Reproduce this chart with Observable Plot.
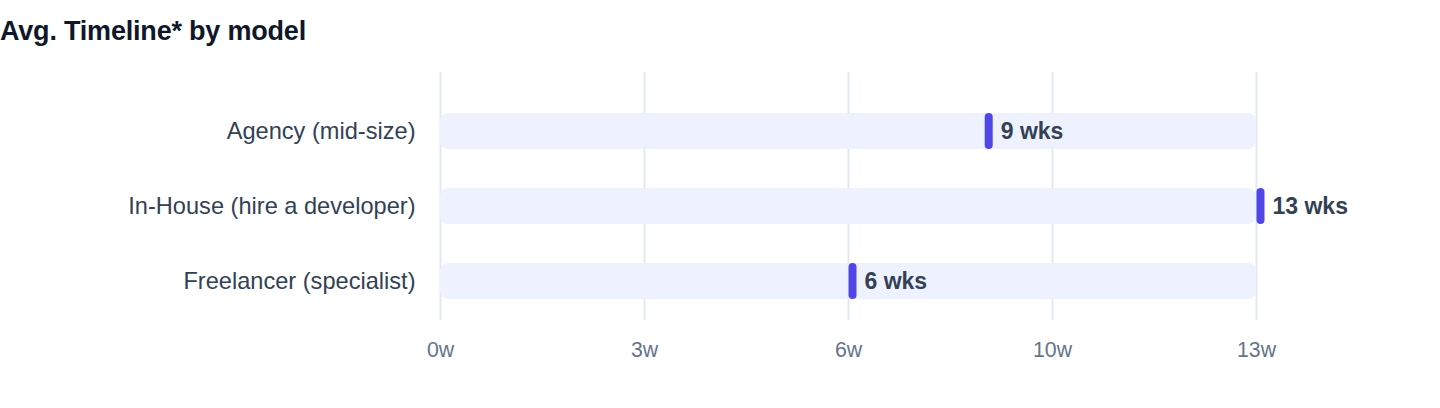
<!DOCTYPE html>
<html>
<head>
<meta charset="utf-8">
<script src="https://cdn.jsdelivr.net/npm/d3@7"></script>
<script src="https://cdn.jsdelivr.net/npm/@observablehq/plot@0.6"></script>
<style>
  html, body { margin: 0; padding: 0; background: #fff; }
  body { width: 1440px; height: 408px; position: relative; overflow: hidden; font-family: "Liberation Sans", Arial, sans-serif; }
  #title { position: absolute; left: 0; top: 18px; font-size: 27px; line-height: 27px; font-weight: 700; color: #0f172a; letter-spacing: -0.2px; white-space: nowrap; }
  #chart { position: absolute; left: 0; top: 0; }
</style>
</head>
<body>
<div id="title">Avg. Timeline* by model</div>
<div id="chart"></div>
<script>
// Data
const models = ["Agency (mid-size)", "In-House (hire a developer)", "Freelancer (specialist)"];
const weeks = [8.67, 13, 6.5];
const valueLabels = ["9 wks", "13 wks", "6 wks"];
const tickValues = [0, 3.25, 6.5, 9.75, 13];
const tickLabels = ["0w", "3w", "6w", "10w", "13w"];
const trackMax = 13;

const rows = models.map((m, i) => ({model: m, weeks: weeks[i], label: valueLabels[i], max: trackMax}));
const tickLabelMap = new Map(tickValues.map((v, i) => [v, tickLabels[i]]));

const chart = Plot.plot({
  width: 1440,
  height: 408,
  marginLeft: 440,
  marginRight: 184,
  marginTop: 72,
  marginBottom: 88,
  style: {fontFamily: "Liberation Sans, Arial, sans-serif", background: "transparent"},
  x: {domain: [0, trackMax]},
  y: {domain: models, range: [92, 320], paddingInner: 0.5263, paddingOuter: 0.2632, align: 0.5},
  marks: [
    Plot.gridX(tickValues, {stroke: "#e2e8f0", strokeOpacity: 1, strokeWidth: 2}),
    Plot.barX(rows, {x1: 0, x2: "max", y: "model", fill: "#eef2ff", rx: 8}),
    Plot.tickX(rows, {x: "weeks", y: "model", stroke: "#4f46e5", strokeWidth: 8, strokeLinecap: "round", insetTop: 4, insetBottom: 4, dx: 4}),
    Plot.text(rows, {x: "weeks", y: "model", text: "label", dx: 16, textAnchor: "start", fontWeight: 700, fontSize: 23, fill: "#334155"}),
    Plot.axisY({tickSize: 0, tickPadding: 25, fontSize: 23.6, fill: "#334155", label: null}),
    Plot.axisX(tickValues, {tickSize: 0, tickPadding: 21.6, fontSize: 21.3, fill: "#64748b", label: null, tickFormat: d => tickLabelMap.get(d)})
  ]
});
document.getElementById("chart").appendChild(chart);
</script>
</body>
</html>
